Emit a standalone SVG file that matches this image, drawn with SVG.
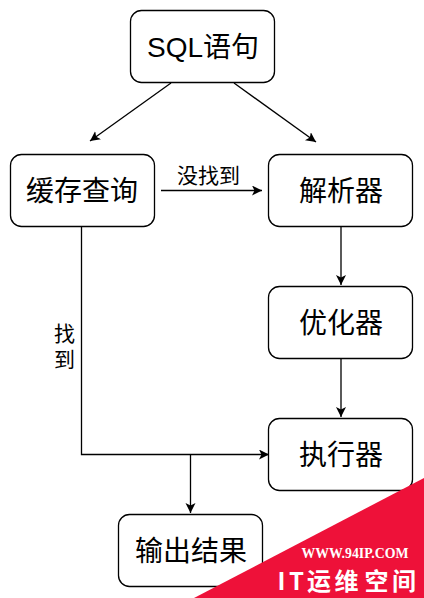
<svg xmlns="http://www.w3.org/2000/svg" width="424" height="598" viewBox="0 0 424 598">
<style>
.box{fill:#fff;stroke:#000;stroke-width:1.3}
.t{font-family:"Liberation Sans","Noto Sans CJK SC",sans-serif;font-size:28px;fill:#000;text-anchor:middle}
.s{font-family:"Liberation Sans","Noto Sans CJK SC",sans-serif;font-size:21px;fill:#000;text-anchor:middle}
.c{fill:none;stroke:#000;stroke-width:1.3}
.w{font-family:"Liberation Serif",serif;font-weight:bold;font-size:13.800px;fill:#fff;text-anchor:middle}
.b{font-family:"Noto Sans CJK SC",sans-serif;font-weight:bold;font-size:24px;fill:#fff;text-anchor:middle}
</style>
<defs>
<marker id="a" markerUnits="userSpaceOnUse" markerWidth="12" markerHeight="12" refX="10" refY="5" orient="auto"><path d="M0 0L10 5L0 10L2.500 5Z" fill="#000"/></marker>
</defs>
<rect width="424" height="598" fill="#fff"/>
<g id="connectors">
<path class="c" d="M171 83L90 141" marker-end="url(#a)"/>
<path class="c" d="M234 83L316 142" marker-end="url(#a)"/>
<path class="c" d="M161 190.500H262" marker-end="url(#a)"/>
<path class="c" d="M341 227V285" marker-end="url(#a)"/>
<path class="c" d="M341 359V417" marker-end="url(#a)"/>
<path class="c" d="M81.500 227V454.500H269" marker-end="url(#a)"/>
<path class="c" d="M190.500 455V513" marker-end="url(#a)"/>
</g>
<g id="n1"><rect class="box" x="130.500" y="10.500" width="144" height="72" rx="11"/><text class="t" x="203" y="57">SQL语句</text></g>
<g id="n2"><rect class="box" x="10.500" y="154.500" width="144" height="72" rx="11"/><text class="t" x="82" y="201">缓存查询</text></g>
<g id="n3"><rect class="box" x="268.500" y="154.500" width="144" height="72" rx="11"/><text class="t" x="341" y="201">解析器</text></g>
<g id="n4"><rect class="box" x="268.500" y="286.500" width="144" height="72" rx="11"/><text class="t" x="341" y="333">优化器</text></g>
<g id="n5"><rect class="box" x="268.500" y="418.500" width="144" height="72" rx="11"/><text class="t" x="341" y="465">执行器</text></g>
<g id="n6"><rect class="box" x="118.500" y="514.500" width="144" height="72" rx="11"/><text class="t" x="191" y="561">输出结果</text></g>
<g id="labels">
<text class="s" x="208.500" y="183">没找到</text>
<text class="s" x="64.500" y="341">找</text>
<text class="s" x="64.500" y="367">到</text>
</g>
<g id="watermark">
<path d="M424 478V598H194Z" fill="#ee1139"/>
<text class="w" x="355" y="558">WWW.94IP.COM</text>
<text class="b" x="281.500" y="590">I</text>
<text class="b" x="296.500" y="590">T</text>
<text class="b" x="319" y="590">运</text>
<text class="b" x="346.500" y="590">维</text>
<text class="b" x="376.500" y="590">空</text>
<text class="b" x="404" y="590">间</text>
</g>
</svg>
